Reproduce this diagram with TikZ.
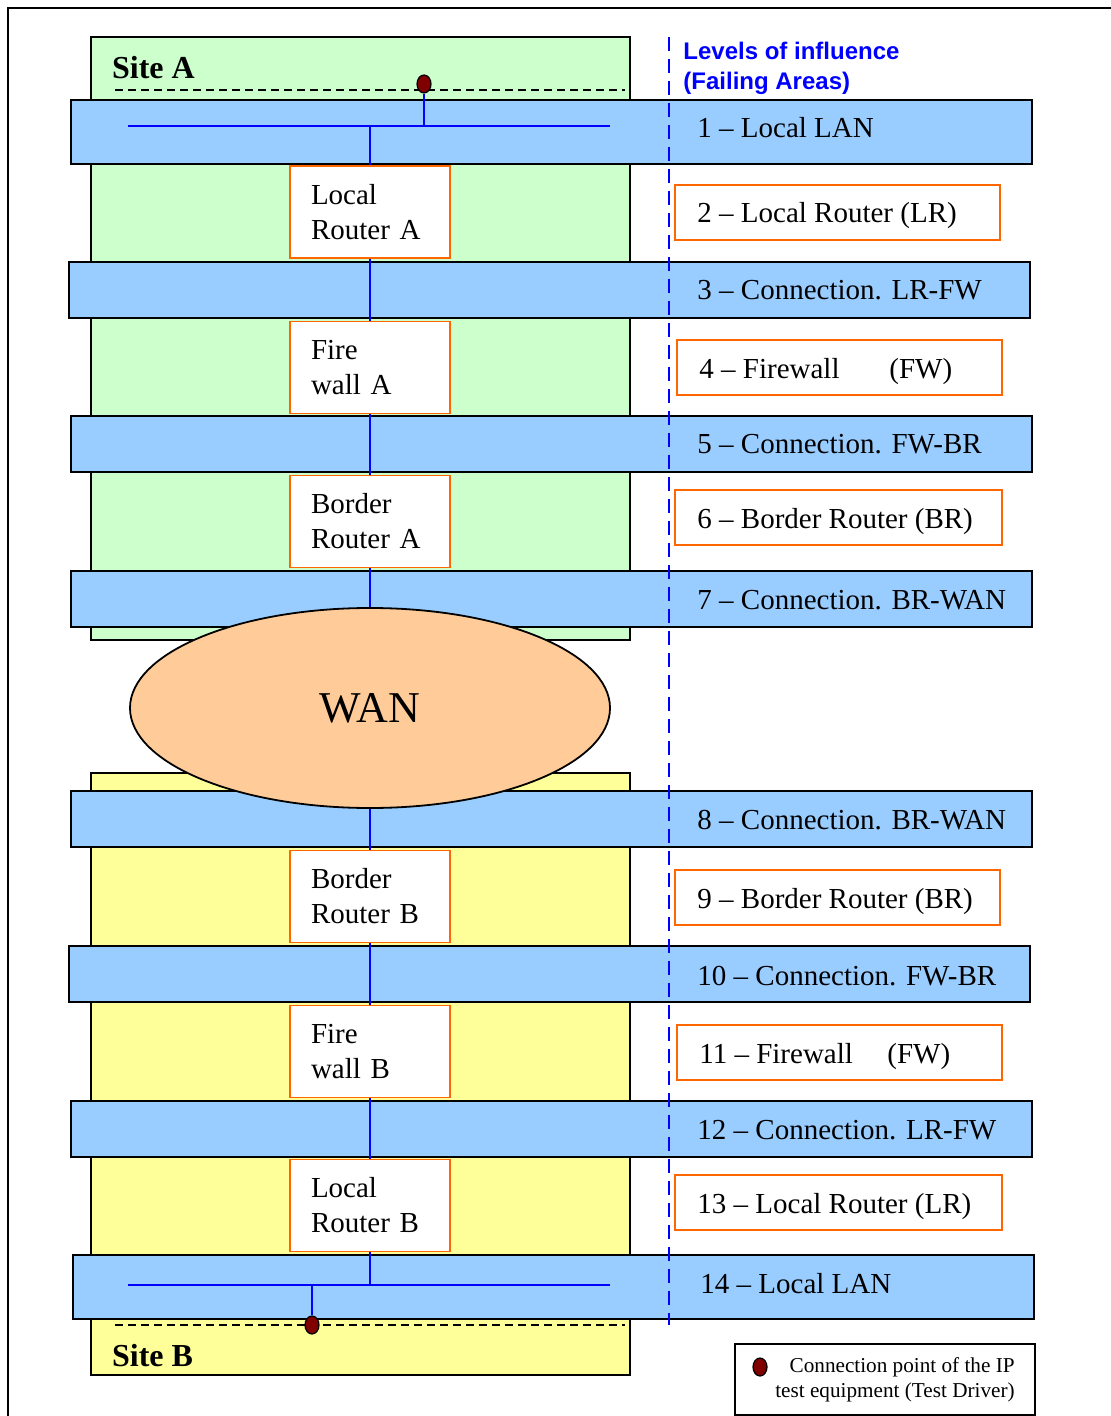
\documentclass[tikz,border=0pt]{standalone}
\usepackage{fontspec}
\setmainfont{Liberation Serif}
\newfontfamily\levelsfont{Liberation Sans}
\usetikzlibrary{shapes.geometric}
\definecolor{siteagreen}{HTML}{CCFFCC}
\definecolor{sitebyellow}{HTML}{FFFF99}
\definecolor{bandblue}{HTML}{99CCFF}
\definecolor{boxorange}{HTML}{FF6600}
\definecolor{wanorange}{HTML}{FFCC99}
\definecolor{tdred}{HTML}{800000}
\tikzset{
  band/.style={draw=black, line width=0.75pt, fill=bandblue},
  device/.style={draw=boxorange, line width=0.9pt, fill=white, text width=59pt, inner xsep=10.5pt, minimum height=46pt, align=left, font=\fontsize{14.5}{17.5}\selectfont},
  level/.style={anchor=base west, inner sep=0pt, font=\fontsize{14.5}{17}\selectfont},
  levelbox/.style={draw=boxorange, line width=0.9pt, fill=white},
  wire/.style={blue, line width=1pt},
  tdot/.style={ellipse, draw=black, line width=0.6pt, fill=tdred, minimum width=7pt, minimum height=9pt, inner sep=0pt},
}
\begin{document}
\begin{tikzpicture}[x=0.5pt, y=-0.5pt]
  % \draw[help lines, step=100] (0,0) grid (1110,1416);
  \useasboundingbox (0,0) rectangle (1110,1416);
  \draw[line width=1pt] (8,1430) -- (8,8) -- (1120,8); % outer frame

  % sites
  \draw[fill=siteagreen, line width=0.75pt] (91,37) rectangle (630,640);
  \draw[fill=sitebyellow, line width=0.75pt] (91,773) rectangle (630,1375);
  \node[anchor=west, font=\bfseries\fontsize{16}{19}\selectfont] (siteA) at (105,68) {Site A};
  \node[anchor=west, font=\bfseries\fontsize{16}{19}\selectfont] (siteB) at (105,1356) {Site B};
  \draw[line width=1pt, dash pattern=on 4pt off 2.5pt] (115,90) -- (625,90);
  \draw[line width=1pt, dash pattern=on 4pt off 2.5pt] (115,1325) -- (625,1325);

  % levels (bands)
  \draw[band] (71,100) rectangle (1032,164);   % 1
  \draw[band] (69,262) rectangle (1030,318);   % 3
  \draw[band] (71,416) rectangle (1032,472);   % 5
  \draw[band] (71,571) rectangle (1032,627);   % 7
  \draw[band] (71,791) rectangle (1032,847);   % 8
  \draw[band] (69,946) rectangle (1030,1002);  % 10
  \draw[band] (71,1101) rectangle (1032,1157); % 12
  \draw[band] (73,1255) rectangle (1034,1319); % 14
  % levels (boxes)
  \draw[levelbox] (675,185) rectangle (1000,240);   % 2
  \draw[levelbox] (677,340) rectangle (1002,395);   % 4
  \draw[levelbox] (675,490) rectangle (1002,545);   % 6
  \draw[levelbox] (675,870) rectangle (1000,925);   % 9
  \draw[levelbox] (677,1025) rectangle (1002,1080); % 11
  \draw[levelbox] (675,1175) rectangle (1002,1230); % 13

  \draw[blue, line width=1pt, dash pattern=on 7pt off 4pt] (669,37) -- (669,1325);
  \node[anchor=west, align=left, inner sep=0pt, text=blue, font=\levelsfont\bfseries\fontsize{12}{15}\selectfont] (levels) at (683,68) {Levels of influence\\(Failing Areas)};

  \node[level] (l1) at (697,138) {1 -- Local LAN};
  \node[level] (l2) at (697,223) {2 -- Local Router (LR)};
  \node[level] (l3) at (697,300) {3 -- Connection. LR-FW};
  \node[level] (l4) at (699,379) {\makebox[95pt][l]{4 -- Firewall}(FW)};
  \node[level] (l5) at (697,454) {5 -- Connection. FW-BR};
  \node[level] (l6) at (697,528) {6 -- Border Router (BR)};
  \node[level] (l7) at (697,609) {7 -- Connection. BR-WAN};
  \node[level] (l8) at (697,829) {8 -- Connection. BR-WAN};
  \node[level] (l9) at (697,908) {9 -- Border Router (BR)};
  \node[level] (l10) at (697,985) {10 -- Connection. FW-BR};
  \node[level] (l11) at (699,1063) {\makebox[94pt][l]{11 -- Firewall}(FW)};
  \node[level] (l12) at (697,1139) {12 -- Connection. LR-FW};
  \node[level] (l13) at (697,1213) {13 -- Local Router (LR)};
  \node[level] (l14) at (700,1293) {14 -- Local LAN};

  % devices
  \node[device] (lra) at (370,212) {Local\\Router A};
  \node[device] (fwa) at (370,367.5) {Fire\\wall A};
  \node[device] (bra) at (370,521.5) {Border\\Router A};
  \node[ellipse, draw, line width=0.9pt, fill=wanorange, minimum width=240pt, minimum height=100pt, font=\fontsize{22}{26}\selectfont] (wan) at (370,708) {WAN};
  \node[device] (brb) at (370,896.5) {Border\\Router B};
  \node[device] (fwb) at (370,1051.5) {Fire\\wall B};
  \node[device] (lrb) at (370,1205.5) {Local\\Router B};

  % LAN A
  \coordinate (lanAl) at (128,126);
  \coordinate (lanAr) at (610,126);
  \coordinate (tapA) at (370,126);
  \coordinate (tdtapA) at (424,126);
  \node[tdot] (tdA) at (424,84) {};
  \draw[wire] (lanAl) -- (lanAr);
  \draw[wire] (tdA) -- (tdtapA);
  % LAN B
  \coordinate (lanBl) at (128,1285);
  \coordinate (lanBr) at (610,1285);
  \coordinate (tapB) at (370,1285);
  \coordinate (tdtapB) at (312,1285);
  \node[tdot] (tdB) at (312,1325) {};
  \draw[wire] (lanBl) -- (lanBr);
  \draw[wire] (tdtapB) -- (tdB);

  \draw[wire] (tapA) -- (lra);
  \draw[wire] (lra) -- (fwa);
  \draw[wire] (fwa) -- (bra);
  \draw[wire] (bra) -- (wan);
  \draw[wire] (wan) -- (brb);
  \draw[wire] (brb) -- (fwb);
  \draw[wire] (fwb) -- (lrb);
  \draw[wire] (lrb) -- (tapB);

  % key
  \draw[line width=0.75pt] (735,1344) rectangle (1035,1415);
  \node[tdot] (keydot) at (760,1367) {};
  \node[anchor=east, align=right, inner sep=0pt, font=\fontsize{10.6}{12.5}\selectfont] (keytext) at (1015,1380) {Connection point of the IP\\test equipment (Test Driver)};
\end{tikzpicture}
\end{document}
